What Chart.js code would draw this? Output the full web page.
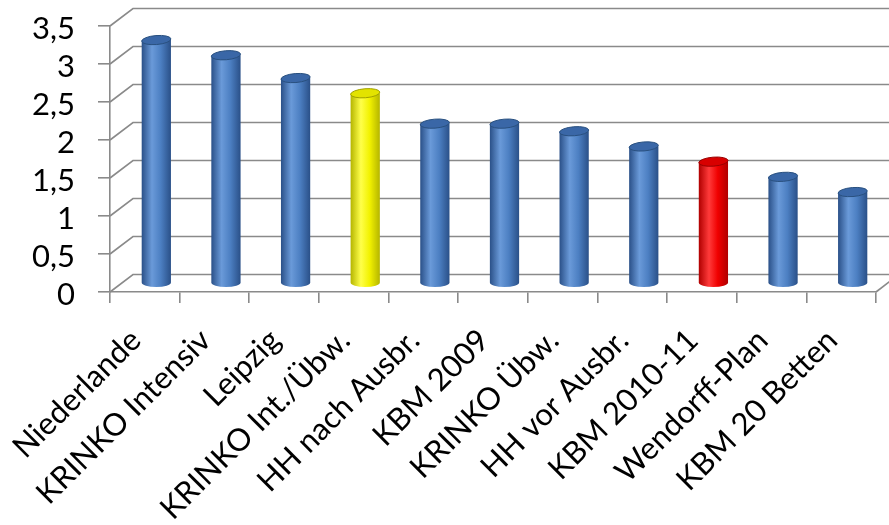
<!DOCTYPE html>
<html>
<head>
<meta charset="utf-8">
<script src="https://cdn.jsdelivr.net/npm/chart.js@4.4.0/dist/chart.umd.min.js"></script>
<style>
  html, body { margin: 0; padding: 0; background: #fff; }
  canvas { display: block; }
</style>
</head>
<body>
<canvas id="chart" width="889" height="525"></canvas>
<script>
const categories = ['Niederlande', 'KRINKO Intensiv', 'Leipzig', 'KRINKO Int./Übw.', 'HH nach Ausbr.', 'KBM 2009', 'KRINKO Übw.', 'HH vor Ausbr.', 'KBM 2010-11', 'Wendorff-Plan', 'KBM 20 Betten'];
const values = [3.2, 3.0, 2.7, 2.5, 2.1, 2.1, 2.0, 1.8, 1.6, 1.4, 1.2];
const yTicks = [0, 0.5, 1, 1.5, 2, 2.5, 3, 3.5];

// which bars are not blue
const highlight = { 3: 'yellow', 8: 'red' };

const palettes = {
  blue:   { dark: '#2a5088', light: '#6a9ad9', mid: '#4c7fc2', top: '#3a67a7', rim: '#29507f' },
  yellow: { dark: '#b5b500', light: '#ffff4a', mid: '#f2f200', top: '#e3e300', rim: '#a0a000' },
  red:    { dark: '#b00000', light: '#ff3a3a', mid: '#f00000', top: '#d80000', rim: '#990000' }
};

const gridColor = '#8a8a8a';
const depthX = 23, depthY = 17.5;

function drawCylinder(ctx, cx, top, bottom, rx, ry, pal) {
  const g = ctx.createLinearGradient(cx - rx, 0, cx + rx, 0);
  g.addColorStop(0, pal.dark);
  g.addColorStop(0.35, pal.light);
  g.addColorStop(0.65, pal.mid);
  g.addColorStop(1, pal.dark);
  ctx.beginPath();
  ctx.moveTo(cx - rx, top);
  ctx.lineTo(cx - rx, bottom);
  ctx.ellipse(cx, bottom, rx, ry, 0, Math.PI, 0, true);
  ctx.lineTo(cx + rx, top);
  ctx.closePath();
  ctx.fillStyle = g;
  ctx.fill();

  ctx.beginPath();
  ctx.ellipse(cx, top, rx, ry, -0.08, 0, Math.PI * 2);
  ctx.fillStyle = pal.top;
  ctx.fill();
  ctx.lineWidth = 1;
  ctx.strokeStyle = pal.rim;
  ctx.stroke();
}

const wallPlugin = {
  id: 'wall',
  beforeDatasetsDraw(chart) {
    const { ctx, chartArea, scales: { y } } = chart;
    ctx.save();
    ctx.strokeStyle = gridColor;
    ctx.lineWidth = 1.6;
    y.ticks.forEach(t => {
      const py = y.getPixelForValue(t.value);
      ctx.beginPath();
      ctx.moveTo(chartArea.left, py);
      ctx.lineTo(chartArea.left + depthX, py - depthY);
      ctx.lineTo(chart.width, py - depthY);
      ctx.stroke();
    });
    ctx.beginPath();
    ctx.moveTo(chartArea.right, chartArea.bottom);
    ctx.lineTo(chartArea.right + depthX, chartArea.bottom - depthY);
    ctx.stroke();
    ctx.restore();
  },
  afterDatasetsDraw(chart) {
    const ctx = chart.ctx;
    const meta = chart.getDatasetMeta(0);
    ctx.save();
    meta.data.forEach((bar, i) => {
      const p = bar.getProps(['x', 'y', 'base', 'width'], true);
      const pal = palettes[highlight[i] || 'blue'];
      drawCylinder(ctx, p.x + depthX / 2, p.y - depthY / 2, p.base - depthY / 2, p.width / 2, 4.5, pal);
    });
    ctx.restore();
  }
};

new Chart(document.getElementById('chart'), {
  type: 'bar',
  data: {
    labels: categories,
    datasets: [{
      data: values,
      backgroundColor: 'rgba(0,0,0,0)',
      borderWidth: 0,
      categoryPercentage: 1,
      barPercentage: 0.42
    }]
  },
  options: {
    responsive: false,
    animation: false,
    layout: { padding: { top: 26, right: 13, left: 0, bottom: 0 } },
    plugins: { legend: { display: false }, tooltip: { enabled: false } },
    scales: {
      x: {
        grid: { drawOnChartArea: false, tickLength: 11, color: gridColor, lineWidth: 1.6, offset: true },
        border: { display: true, color: gridColor, width: 1.6 },
        ticks: {
          autoSkip: false, minRotation: 45, maxRotation: 45, padding: 19, labelOffset: -9,
          color: '#000', font: { family: 'Lato', size: 31 }
        },
        afterFit(s) { s.height = 233; s.paddingLeft = 0; s.paddingRight = 0; }
      },
      y: {
        min: 0, max: 3.5,
        afterBuildTicks(s) { s.ticks = yTicks.map(v => ({ value: v })); },
        grid: { drawOnChartArea: false, tickLength: 12, color: gridColor, lineWidth: 1.6 },
        border: { display: true, color: gridColor, width: 1.6 },
        ticks: {
          autoSkip: false, padding: 23, labelOffset: 3, color: '#000', font: { family: 'Lato', size: 31 },
          callback: v => String(v).replace('.', ',')
        },
        afterFit(s) { s.width = 110; s.paddingTop = 0; s.paddingBottom = 0; }
      }
    }
  },
  plugins: [wallPlugin]
});
</script>
</body>
</html>
